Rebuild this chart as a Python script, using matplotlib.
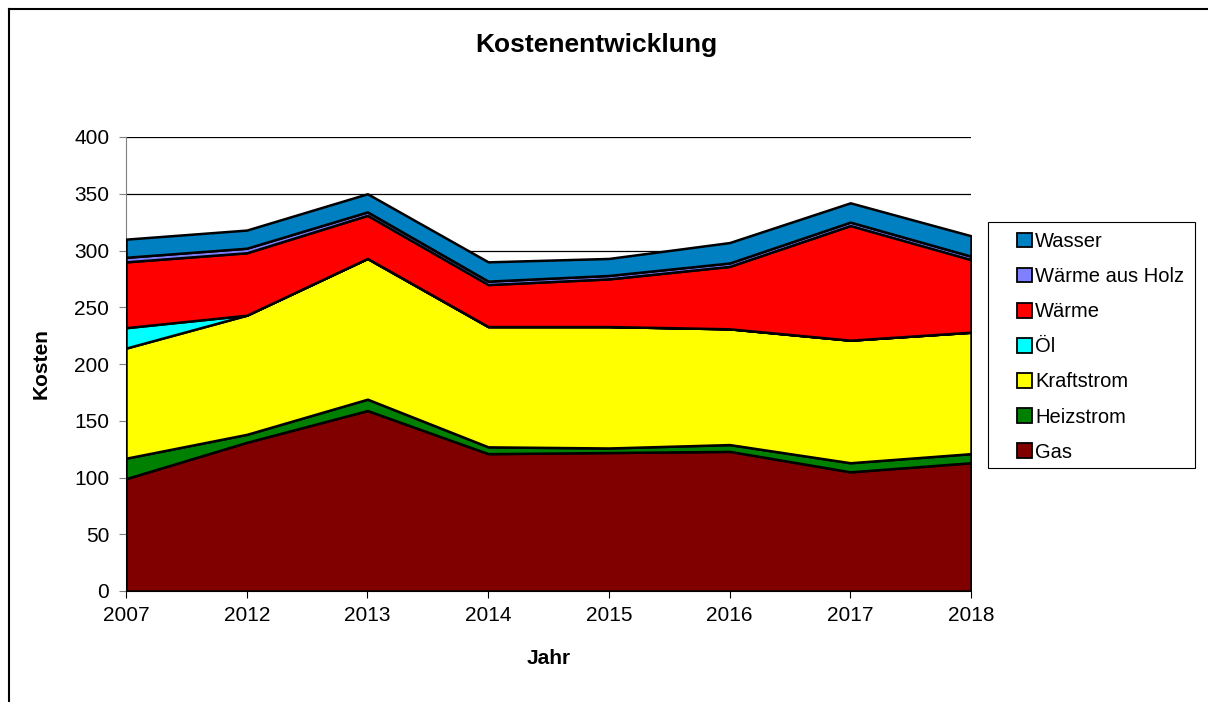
import matplotlib
matplotlib.use("Agg")
import matplotlib.pyplot as plt
from matplotlib.patches import Patch, Rectangle
from matplotlib.lines import Line2D
import numpy as np

plt.rcParams['font.family'] = ['Liberation Sans', 'DejaVu Sans']

years = ["2007", "2012", "2013", "2014", "2015", "2016", "2017", "2018"]
gas = [99, 131, 159, 121, 122, 123, 105, 113]
heizstrom = [18, 7, 10, 6, 4, 6, 8, 8]
kraftstrom = [97, 105, 124, 106, 107, 102, 108, 107]
oel = [18, 0, 0, 0, 0, 0, 0, 0]
waerme = [58, 55, 38, 37, 42, 55, 101, 64]
holz = [4, 4, 3, 3, 3, 3, 3, 3]
wasser = [16, 16, 16, 17, 15, 18, 17, 18]

series_names = ["Gas", "Heizstrom", "Kraftstrom", "Öl", "Wärme", "Wärme aus Holz", "Wasser"]
series_vals = [gas, heizstrom, kraftstrom, oel, waerme, holz, wasser]
colors = ["#800000", "#008000", "#FFFF00", "#00FFFF", "#FF0000", "#8080FF", "#0080C0"]

W, H = 1208, 702
fig = plt.figure(figsize=(W/100, H/100), dpi=100)
ax = fig.add_axes([126/W, 1-591/H, (971-126)/W, (591-137)/H])

x = np.arange(len(years))
ax.stackplot(x, *series_vals, colors=colors, edgecolor="black", linewidth=1.8, zorder=3)

ax.set_xlim(0, len(years)-1)
ax.set_ylim(0, 400)
ax.set_yticks(range(0, 401, 50))
ax.set_xticks(x)
ax.set_xticklabels(years)
ax.grid(axis='y', color='black', linewidth=0.9, zorder=1)
for s in ['top', 'right']:
    ax.spines[s].set_visible(False)
ax.spines['left'].set_color('#808080')
ax.spines['bottom'].set_color('black')
ax.spines['bottom'].set_zorder(4)
ax.tick_params(axis='both', labelsize=15, length=5, direction='out', colors='black')
ax.tick_params(axis='y', pad=7, color='#808080', labelcolor='black')
ax.tick_params(axis='x', pad=6)
ax.set_xlabel("Jahr", fontsize=15, fontweight='bold', labelpad=17)
ax.set_ylabel("Kosten", fontsize=15, fontweight='bold', labelpad=17)

fig.text(596/W, 1-45/H, "Kostenentwicklung", ha='center', va='center',
         fontsize=19, fontweight='bold')

# legend box
fig.add_artist(Rectangle((988/W, 1-468/H), (1195-988)/W, (468-222)/H,
                         transform=fig.transFigure, facecolor='white',
                         edgecolor='black', linewidth=0.8, zorder=5))

handles = [Patch(facecolor=c, edgecolor='black', linewidth=1.3, label=n)
           for n, c in zip(series_names, colors)][::-1]
leg = fig.legend(handles=handles, loc='upper left',
                 bbox_to_anchor=(1017/W, 1-232/H),
                 fontsize=14.5, frameon=False,
                 handlelength=0.75, handleheight=0.75,
                 handletextpad=0.15, labelspacing=0.8, borderpad=0,
                 borderaxespad=0)
leg.set_zorder(6)

# figure border (top and left lines)
fig.add_artist(Line2D([9/W, 9/W], [0, 1-9/H], color='black', linewidth=1.5,
                      transform=fig.transFigure))
fig.add_artist(Line2D([9/W, 1], [1-9/H, 1-9/H], color='black', linewidth=1.5,
                      transform=fig.transFigure))

fig.savefig("out.png", dpi=100)
